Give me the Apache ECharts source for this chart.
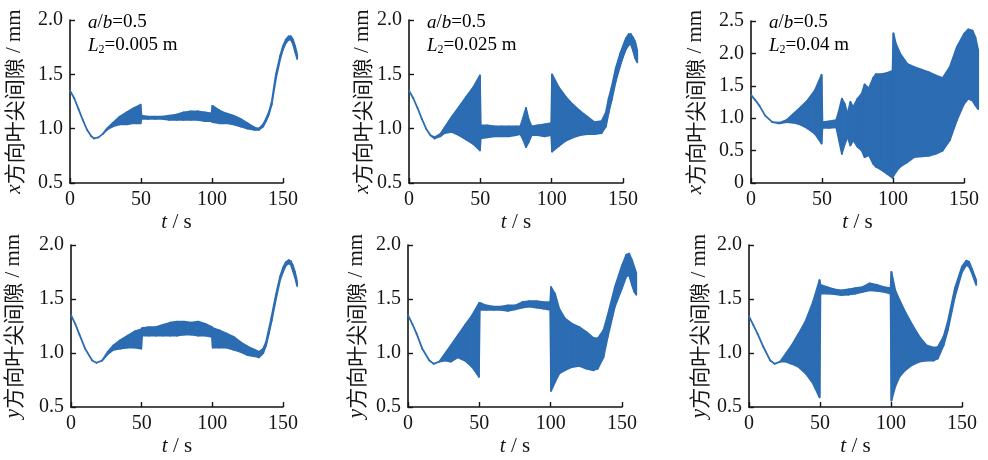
<!DOCTYPE html>
<html>
<head>
<meta charset="utf-8">
<script src="https://cdn.jsdelivr.net/npm/echarts@6/dist/echarts.min.js"></script>
<style>
html,body{margin:0;padding:0;background:#fff;}
#chart{width:988px;height:460px;}
</style>
</head>
<body>
<div id="chart"></div>
<script>
// ---- Data: envelope (lower / upper) of tip clearance vs time ----
// Panel 1: x-direction, L2 = 0.005 m
const t_x1  = [0,3,6,9,12,15,17,20,23,26,30,35,40,45,49.7,50.3,55,60,65,70,75,80,85,90,95,99.7,100.3,105,110,115,120,125,130,133,136,138,140,142,145,148,150,152,154,155.5,157,158.5,160];
const lo_x1 = [1.35,1.28,1.18,1.08,0.99,0.93,0.91,0.92,0.95,0.99,1.02,1.04,1.04,1.05,1.05,1.09,1.09,1.09,1.09,1.08,1.08,1.08,1.08,1.08,1.07,1.07,1.06,1.05,1.05,1.04,1.02,1.00,0.99,0.99,1.02,1.07,1.13,1.22,1.46,1.64,1.73,1.79,1.82,1.82,1.78,1.71,1.64];
const hi_x1 = [1.35,1.28,1.18,1.08,0.99,0.93,0.91,0.92,0.95,1.00,1.05,1.11,1.15,1.19,1.22,1.12,1.11,1.11,1.11,1.12,1.13,1.15,1.16,1.16,1.15,1.14,1.21,1.17,1.14,1.12,1.09,1.05,1.01,1.00,1.04,1.09,1.15,1.24,1.50,1.67,1.76,1.82,1.85,1.85,1.82,1.76,1.68];

// Panel 2: x-direction, L2 = 0.025 m
const t_x2  = [0,3,6,9,12,15,18,22,25,30,35,40,45,49.7,50.3,55,60,65,70,75,78,80,82,84,86,90,95,99.7,100.3,105,110,115,120,125,130,135,138,140,142,145,148,150,152,154,155.5,157,158.5,160];
const lo_x2 = [1.35,1.28,1.19,1.09,1.00,0.94,0.91,0.93,0.96,0.97,0.94,0.90,0.86,0.80,0.91,0.92,0.93,0.93,0.93,0.94,0.95,0.90,0.83,0.88,0.94,0.94,0.93,0.94,0.79,0.84,0.89,0.92,0.94,0.95,0.95,0.96,1.02,1.15,1.26,1.44,1.58,1.66,1.73,1.77,1.78,1.72,1.65,1.61];
const hi_x2 = [1.35,1.28,1.19,1.09,1.00,0.94,0.92,0.95,1.01,1.11,1.20,1.29,1.38,1.49,1.03,1.03,1.02,1.02,1.02,1.02,1.02,1.10,1.19,1.08,1.02,1.03,1.04,1.05,1.50,1.38,1.29,1.22,1.16,1.11,1.06,1.07,1.15,1.28,1.38,1.56,1.69,1.76,1.83,1.87,1.87,1.84,1.80,1.72];

// Panel 3: x-direction, L2 = 0.04 m
const t_x3  = [0,3,6,10,15,20,25,30,35,40,45,49.7,50.3,55,60,62,64,66,68,70,72,75,78,80,83,86,88,92,96,99.7,100.3,102,105,110,115,120,125,130,135,140,145,150,153,156,158,160];
const lo_x3 = [1.36,1.28,1.19,1.04,0.94,0.92,0.94,0.93,0.90,0.84,0.76,0.61,0.85,0.85,0.86,0.66,0.45,0.60,0.71,0.58,0.66,0.56,0.50,0.40,0.43,0.30,0.25,0.20,0.14,0.08,0.11,0.17,0.25,0.32,0.40,0.41,0.42,0.45,0.50,0.66,0.97,1.22,1.30,1.27,1.20,1.14];
const hi_x3 = [1.36,1.28,1.19,1.04,0.94,0.93,0.97,1.07,1.17,1.28,1.43,1.67,0.94,0.95,0.97,1.12,1.30,1.22,1.07,1.25,1.17,1.30,1.38,1.52,1.46,1.62,1.68,1.68,1.70,1.73,2.31,2.15,2.00,1.84,1.79,1.75,1.71,1.66,1.62,1.79,2.10,2.30,2.37,2.35,2.25,2.05];

// Panel 4: y-direction, L2 = 0.005 m
const t_y1  = [0,3,6,10,15,18,22,26,30,35,40,45,49.7,50.3,55,60,65,70,75,80,85,90,95,99.7,100.3,105,110,115,120,125,130,133,136,138,140,142,145,148,150,152,154,155.5,157,158.5,160];
const lo_y1 = [1.35,1.27,1.17,1.04,0.93,0.91,0.93,0.99,1.03,1.04,1.05,1.05,1.04,1.16,1.16,1.16,1.16,1.16,1.16,1.17,1.17,1.16,1.16,1.15,1.05,1.05,1.05,1.03,1.01,0.98,0.97,0.96,1.00,1.07,1.18,1.30,1.50,1.68,1.75,1.81,1.83,1.82,1.76,1.70,1.62];
const hi_y1 = [1.35,1.27,1.17,1.04,0.93,0.91,0.93,1.01,1.07,1.12,1.16,1.20,1.22,1.23,1.24,1.24,1.26,1.28,1.29,1.29,1.28,1.29,1.27,1.24,1.23,1.21,1.18,1.15,1.10,1.06,1.03,1.01,1.04,1.10,1.22,1.34,1.54,1.71,1.79,1.84,1.86,1.85,1.81,1.75,1.66];

// Panel 5: y-direction, L2 = 0.025 m
const t_y2  = [0,3,6,10,15,18,22,26,30,35,40,45,49.7,50.3,55,60,65,70,75,80,85,90,95,99.7,100.3,103,106,110,115,120,125,130,133,137,140,145,150,153,155,157,158.5,160];
const lo_y2 = [1.35,1.27,1.18,1.04,0.93,0.90,0.92,0.93,0.92,0.96,0.93,0.87,0.78,1.40,1.40,1.40,1.40,1.39,1.405,1.42,1.43,1.42,1.41,1.40,0.65,0.73,0.81,0.84,0.87,0.88,0.855,0.84,0.855,0.96,1.15,1.43,1.60,1.71,1.72,1.63,1.57,1.54];
const hi_y2 = [1.35,1.27,1.18,1.04,0.93,0.90,0.92,0.995,1.07,1.165,1.26,1.35,1.46,1.465,1.44,1.43,1.43,1.44,1.44,1.47,1.48,1.48,1.47,1.47,1.61,1.55,1.41,1.32,1.27,1.24,1.195,1.14,1.135,1.21,1.35,1.61,1.81,1.91,1.92,1.86,1.80,1.74];

// Panel 6: y-direction, L2 = 0.04 m
const t_y3  = [0,3,6,10,15,18,22,26,30,35,40,45,49.7,50.3,55,60,65,70,75,80,85,90,95,99.7,100.3,103,106,110,115,120,125,130,133,137,140,145,150,153,155,157,160];
const lo_y3 = [1.34,1.26,1.18,1.06,0.93,0.90,0.92,0.92,0.90,0.87,0.81,0.72,0.59,1.55,1.55,1.545,1.535,1.54,1.55,1.565,1.58,1.575,1.565,1.55,0.56,0.69,0.78,0.84,0.89,0.92,0.93,0.93,0.95,1.07,1.21,1.52,1.75,1.815,1.80,1.74,1.63];
const hi_y3 = [1.34,1.26,1.18,1.06,0.93,0.90,0.92,0.995,1.07,1.18,1.30,1.47,1.675,1.63,1.61,1.59,1.58,1.59,1.60,1.61,1.645,1.63,1.61,1.60,1.75,1.58,1.49,1.38,1.26,1.15,1.07,1.05,1.055,1.15,1.29,1.60,1.80,1.855,1.845,1.78,1.675];

// Axis ticks / labels
const xTicks = [0, 50, 100, 150];
const yTicksA = [0.5, 1.0, 1.5, 2.0];
const yTicksB = [0, 0.5, 1.0, 1.5, 2.0, 2.5];
const L2Values = ['0.005', '0.025', '0.04'];
const dirNames = ['x', 'y'];

// ---- Layout / style ----
const COLOR = '#2c6cb2';
const AXIS_COLOR = '#151515';
const SERIF = 'Liberation Serif';
const CJK = 'Noto Sans CJK SC';
const grids = [
  {left: 70, top: 20, width: 213, height: 163},
  {left: 409, top: 20, width: 214, height: 163},
  {left: 751, top: 21, width: 213, height: 162},
  {left: 71, top: 245, width: 212, height: 162},
  {left: 408, top: 245, width: 214, height: 162},
  {left: 749, top: 245, width: 213, height: 162}
];
const yNameGaps = [45, 36, 45, 47, 41, 39];
const panels = [
  {t: t_x1, lo: lo_x1, hi: hi_x1, dir: 0, yt: yTicksA},
  {t: t_x2, lo: lo_x2, hi: hi_x2, dir: 0, yt: yTicksA},
  {t: t_x3, lo: lo_x3, hi: hi_x3, dir: 0, yt: yTicksB},
  {t: t_y1, lo: lo_y1, hi: hi_y1, dir: 1, yt: yTicksA},
  {t: t_y2, lo: lo_y2, hi: hi_y2, dir: 1, yt: yTicksA},
  {t: t_y3, lo: lo_y3, hi: hi_y3, dir: 1, yt: yTicksA}
];

const labelStyle = {fontFamily: SERIF, fontSize: 20, color: AXIS_COLOR};
const rich = {
  i: {fontFamily: SERIF, fontStyle: 'italic', fontSize: 21, color: AXIS_COLOR},
  n: {fontFamily: SERIF, fontSize: 21, color: AXIS_COLOR},
  c: {fontFamily: CJK, fontSize: 21, color: AXIS_COLOR}
};
const annRich = {
  i: {fontFamily: SERIF, fontStyle: 'italic', fontSize: 19, color: AXIS_COLOR},
  n: {fontFamily: SERIF, fontSize: 19, color: AXIS_COLOR},
  s: {fontFamily: SERIF, fontSize: 12, color: AXIS_COLOR, verticalAlign: 'bottom', padding: [9, 0, 0, 0]}
};

const option = {
  backgroundColor: '#fff',
  animation: false,
  grid: grids.map(g => Object.assign({containLabel: false}, g)),
  xAxis: panels.map((p, k) => ({
    gridIndex: k, type: 'value', min: xTicks[0], max: xTicks[xTicks.length - 1], interval: 50,
    axisLine: {show: true, lineStyle: {color: AXIS_COLOR, width: 1.6}},
    axisTick: {show: true, inside: true, length: 5, lineStyle: {color: AXIS_COLOR, width: 1.4}},
    splitLine: {show: false},
    axisLabel: Object.assign({margin: 7}, labelStyle),
    name: '{i|t}{n| / s}', nameLocation: 'middle', nameGap: 29,
    nameTextStyle: {rich: rich}
  })),
  yAxis: panels.map((p, k) => ({
    gridIndex: k, type: 'value', min: p.yt[0], max: p.yt[p.yt.length - 1], interval: 0.5,
    axisLine: {show: true, lineStyle: {color: AXIS_COLOR, width: 1.6}},
    axisTick: {show: true, inside: true, length: 5, lineStyle: {color: AXIS_COLOR, width: 1.4}},
    splitLine: {show: false},
    axisLabel: Object.assign({margin: 7, formatter: v => v === 0 ? '0' : v.toFixed(1)}, labelStyle),
    name: '{i|' + dirNames[p.dir] + '}{c|方向叶尖间隙}{n| / mm}', nameLocation: 'middle',
    nameGap: yNameGaps[k], nameRotate: 90,
    nameTextStyle: {rich: rich}
  })),
  series: panels.map((p, k) => ({
    type: 'custom', xAxisIndex: k, yAxisIndex: k, clip: false,
    encode: {x: 0, y: [1, 2]},
    data: p.t.map((tv, i) => [tv, p.lo[i], p.hi[i]]),
    renderItem: function (params, api) {
      const i = params.dataIndexInside;
      if (i === 0) return null;
      const t0 = api.value(0, i - 1), l0 = api.value(1, i - 1), h0 = api.value(2, i - 1);
      const t1 = api.value(0), l1 = api.value(1), h1 = api.value(2);
      return {
        type: 'polygon',
        shape: {points: [api.coord([t0, l0]), api.coord([t1, l1]), api.coord([t1, h1]), api.coord([t0, h0])]},
        style: {fill: COLOR, stroke: COLOR, lineWidth: 1.8, lineJoin: 'round'}
      };
    }
  })),
  graphic: [0, 1, 2].map(k => ({
    type: 'group', left: grids[k].left + 18, top: 13,
    children: [
      {type: 'text', x: 0, y: 0, style: {text: '{i|a}{n|/}{i|b}{n|=0.5}', rich: annRich}},
      {type: 'text', x: 0, y: 22, style: {text: '{i|L}{s|2}{n|=' + L2Values[k] + ' m}', rich: annRich}}
    ]
  }))
};

const chart = echarts.init(document.getElementById('chart'), null, {renderer: 'canvas'});
chart.setOption(option);
</script>
</body>
</html>
